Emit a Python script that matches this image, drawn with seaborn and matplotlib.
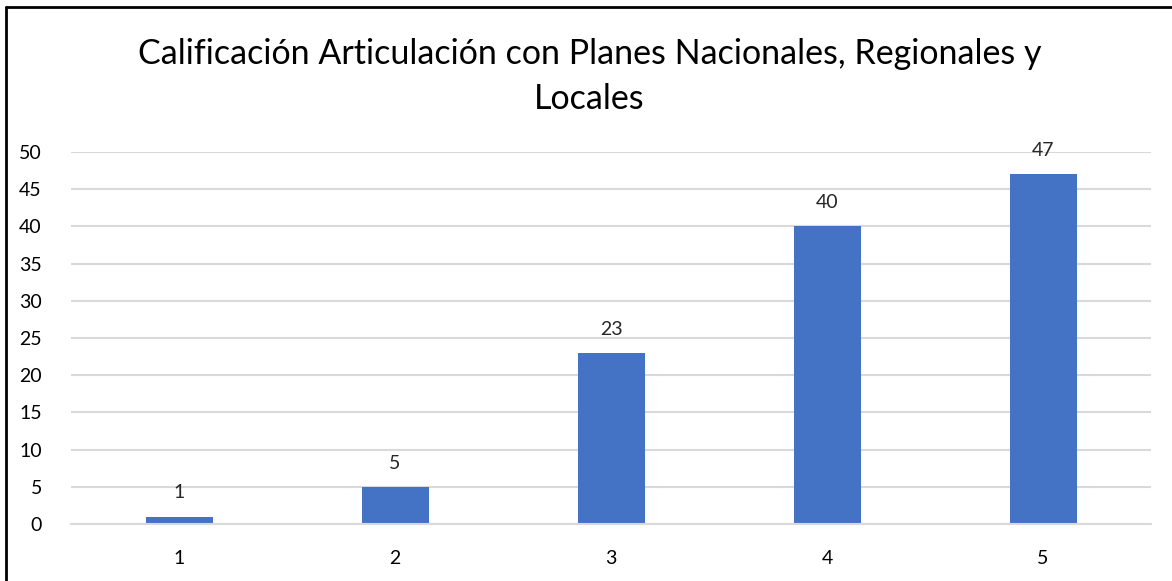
import matplotlib.pyplot as plt
import seaborn as sns
from matplotlib.lines import Line2D

categorias = ["1", "2", "3", "4", "5"]
valores = [1, 5, 23, 40, 47]
ticks_y = [0, 5, 10, 15, 20, 25, 30, 35, 40, 45, 50]
titulo = "Calificación Articulación con Planes Nacionales, Regionales y\nLocales"

AZUL = "#4472C4"
GRIS = "#D9D9D9"


def configurar_estilo():
    sns.set_theme(style="white")
    plt.rcParams.update(
        {
            "font.family": ["Lato", "DejaVu Sans"],
            "font.size": 14,
        }
    )


def grafico_barras():
    fig = plt.figure(figsize=(11.72, 5.81), dpi=100)
    ax = fig.add_axes([0.0606, 0.0981, 0.9215, 0.6403])

    sns.barplot(x=categorias, y=valores, color=AZUL, width=0.31, saturation=1,
                linewidth=0, ax=ax)

    ax.set_ylim(0, 50)
    ax.set_xlim(-0.5, len(categorias) - 0.5)
    ax.set_yticks(ticks_y)
    ax.yaxis.grid(True, color=GRIS, linewidth=1.5)
    ax.set_axisbelow(True)
    for lado in ["top", "right", "left"]:
        ax.spines[lado].set_visible(False)
    ax.spines["bottom"].set_color(GRIS)
    ax.spines["bottom"].set_linewidth(1.5)
    ax.tick_params(axis="both", length=0, labelsize=14, colors="black")
    ax.tick_params(axis="y", pad=21)
    ax.tick_params(axis="x", pad=19)
    ax.set_xlabel("")
    ax.set_ylabel("")

    for cont in ax.containers:
        ax.bar_label(cont, labels=[str(v) for v in valores], padding=11, fontsize=14)

    fig.text(0.503, 0.869, titulo, ha="center", va="center", fontsize=24.5,
             linespacing=1.5, color="black")

    # borde del recuadro (solo izquierda y arriba visibles)
    fig.add_artist(Line2D([6 / 1172, 6 / 1172], [0, 1 - 7 / 581], transform=fig.transFigure,
                          color="black", linewidth=2))
    fig.add_artist(Line2D([6 / 1172, 1], [1 - 7 / 581, 1 - 7 / 581], transform=fig.transFigure,
                          color="black", linewidth=2))

    fig.savefig("out.png", dpi=100)


configurar_estilo()
grafico_barras()
